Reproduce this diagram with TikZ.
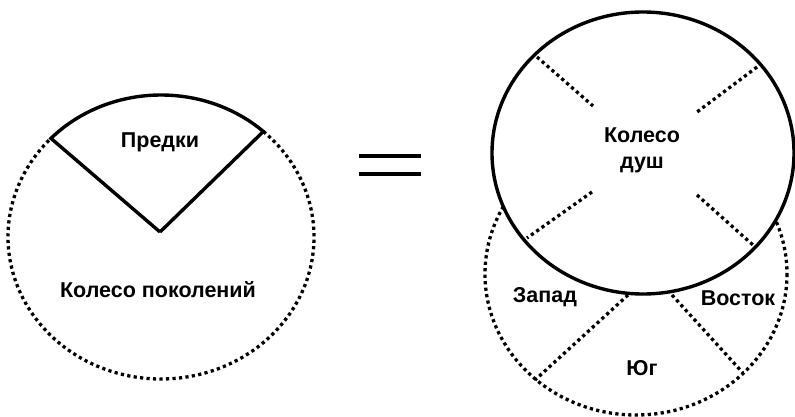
\documentclass[tikz,border=0pt]{standalone}
\usepackage{fontspec}
\setmainfont{Liberation Sans}
\usetikzlibrary{calc}
\begin{document}
\begin{tikzpicture}[x=1pt,y=-1pt,
  solidline/.style={line width=3.4pt},
  dotline/.style={line width=3.3pt, dash pattern=on 3.2pt off 3.3pt},
  lbl/.style={font=\fontsize{21.5}{26}\selectfont\bfseries, inner sep=0pt, align=center}]
\useasboundingbox (0,0) rectangle (795,417);
% left wheel
\coordinate (lc) at (161,237);
\coordinate (apex) at (160,232);
\draw[dotline] (lc) ++(48:153 and -142) arc[start angle=48, end angle=-224, x radius=153, y radius=-142];
\draw[solidline, line join=miter] (apex) -- ($(lc)+(136:153 and -142)$) coordinate (lA)
   arc[start angle=136, end angle=48, x radius=153, y radius=-142] coordinate (lB) -- (apex);
\node[lbl] (pred) at (160,142) {Предки};
\node[lbl] (kp) at (158,290) {Колесо поколений};
% equals sign
\coordinate (e1a) at (359,156); \coordinate (e1b) at (421,156);
\coordinate (e2a) at (359,174); \coordinate (e2b) at (421,174);
\draw[line width=3.8pt] (e1a) -- (e1b);
\draw[line width=3.8pt] (e2a) -- (e2b);
% right: lower dotted wheel
\coordinate (rl) at (636,274);
\draw[dotline] (rl) ellipse[x radius=151, y radius=141];
\coordinate (s1a) at (628,295); \coordinate (s1b) at (535,380);
\coordinate (s2a) at (672,295); \coordinate (s2b) at (743,373);
\draw[dotline] (s1a) -- (s1b);
\draw[dotline] (s2a) -- (s2b);
% upper solid wheel
\coordinate (ru) at (643,153);
\draw[solidline, fill=white] (ru) ellipse[x radius=151, y radius=141];
\coordinate (d1a) at (537,57);  \coordinate (d1b) at (593,106);
\coordinate (d2a) at (757,67);  \coordinate (d2b) at (697,112);
\coordinate (d3a) at (592,192); \coordinate (d3b) at (527,238);
\coordinate (d4a) at (697,195); \coordinate (d4b) at (753,245);
\draw[dotline] (d1a) -- (d1b);
\draw[dotline] (d2a) -- (d2b);
\draw[dotline] (d3a) -- (d3b);
\draw[dotline] (d4a) -- (d4b);
\node[lbl] (kd) at (642,150) {Колесо\\душ};
\node[lbl] (zap) at (545,297) {Запад};
\node[lbl] (vos) at (738,298) {Восток};
\node[lbl] (yug) at (642,368) {Юг};
\end{tikzpicture}
\end{document}
